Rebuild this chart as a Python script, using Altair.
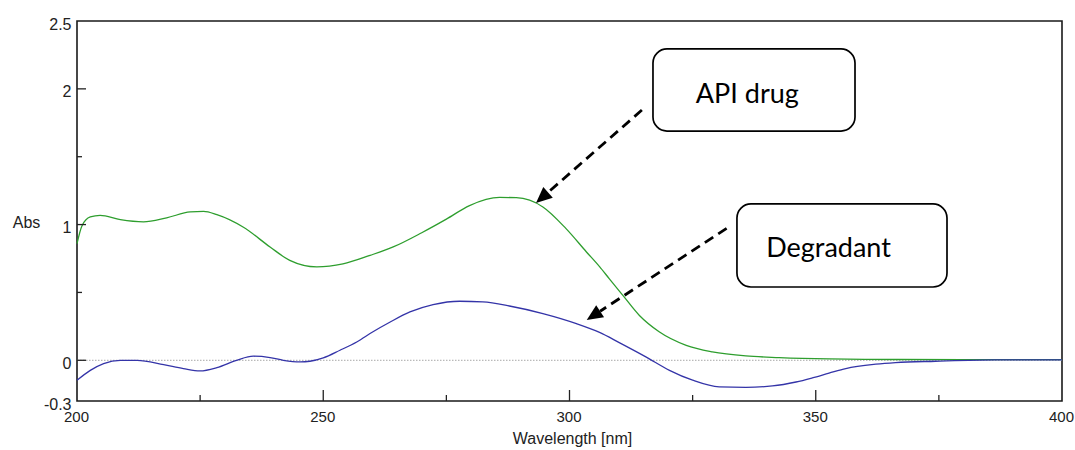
import math
import altair as alt
import pandas as pd

# ---- spectra (wavelength in nm, absorbance) ----
api_wl = [200, 201, 202.7, 204.7, 208.8, 213.5, 218.2, 223, 225.7, 228.4, 233.8, 239.2,
          243.2, 248.7, 254, 259.5, 264.2, 270, 275, 279.7, 285.8, 289.2, 294.6, 299.3,
          303.4, 306.1, 308.1, 310.8, 314.2, 318.2, 323.7, 329, 335.8, 342.6, 352.7,
          360, 380, 400]
api_abs = [0.86, 0.99, 1.056, 1.068, 1.036, 1.02, 1.05, 1.093, 1.097, 1.073, 0.98, 0.835,
           0.736, 0.688, 0.71, 0.773, 0.835, 0.94, 1.04, 1.14, 1.20, 1.198, 1.13, 0.97,
           0.80, 0.69, 0.60, 0.48, 0.33, 0.21, 0.11, 0.062, 0.032, 0.02, 0.01,
           0.007, 0.005, 0.005]

deg_wl = [200, 202.7, 205.4, 208.8, 212.2, 217.6, 221.6, 225, 228.4, 232.4, 235.8, 239.2,
          241.9, 245.3, 247.3, 250, 253.4, 256.8, 260.1, 263.5, 267.6, 272.3, 277.7, 282.4,
          287.8, 294.6, 301.4, 306.1, 310.1, 315.5, 320.3, 325, 330.4, 335.8, 341.2, 346,
          349.3, 352.7, 356.1, 362.2, 366.2, 374.3, 386.5, 400]
deg_abs = [-0.147, -0.074, -0.024, 0.0, 0.0, -0.032, -0.061, -0.078, -0.054, 0.0, 0.03, 0.02,
           0.0, -0.012, -0.007, 0.018, 0.074, 0.135, 0.21, 0.28, 0.356, 0.41, 0.435, 0.43,
           0.40, 0.344, 0.27, 0.205, 0.13, 0.025, -0.074, -0.147, -0.196, -0.199, -0.189, -0.16,
           -0.13, -0.095, -0.061, -0.029, -0.017, -0.007, 0.003, 0.003]

# ---- axis ticks / labels ----
x_labels = [200, 250, 300, 350, 400]
x_major_ticks = [250, 300, 350]
x_minor_ticks = [225, 275, 325, 375]
y_labels = [-0.3, 0, 1, 2, 2.5]
y_major_ticks = [0, 1, 2]
y_minor_ticks = [0.5, 1.5]

# ---- callouts (data coordinates) ----
box_names = ["API drug", "Degradant"]
box_x1 = [316.95, 334.0]
box_x2 = [357.97, 376.65]
box_y1 = [2.294, 1.152]
box_y2 = [1.689, 0.540]
label_x = [336.1, 352.6]
label_y = [1.896, 0.763]
arrow_tail_wl = [314.7, 331.9]
arrow_tail_abs = [1.844, 0.972]
arrow_tip_wl = [293.2, 303.5]
arrow_tip_abs = [1.159, 0.297]

W, H = 985, 380
X_DOM, Y_DOM = [200, 400], [-0.3, 2.5]
PX_X = W / (X_DOM[1] - X_DOM[0])
PX_Y = H / (Y_DOM[1] - Y_DOM[0])
HEAD = 16  # arrowhead length in px

FONT = "Liberation Sans"
TXT = "#222222"

x_axis = alt.Axis(values=x_labels, labelExpr="'' + datum.value", ticks=False, domain=False,
                  grid=False, labelFont=FONT, labelFontSize=15, labelColor=TXT,
                  labelPadding=8, labelOffset=-1, labelFlush=False, labelOverlap=False,
                  titleFont=FONT, titleFontSize=16, titleFontWeight="normal", titleColor=TXT,
                  titleBaseline="alphabetic", titleY=42, titleX=495)
y_axis = alt.Axis(values=y_labels, labelExpr="'' + datum.value", ticks=False, domain=False,
                  grid=False, labelFont=FONT, labelFontSize=16, labelColor=TXT,
                  labelPadding=6, labelOffset=3, labelFlush=False, labelOverlap=False,
                  titleFont=FONT, titleFontSize=16, titleFontWeight="normal", titleColor=TXT,
                  titleAngle=0, titleAlign="center", titleBaseline="alphabetic",
                  titleX=-51, titleY=206)
x_scale = alt.Scale(domain=X_DOM, nice=False, zero=False)
y_scale = alt.Scale(domain=Y_DOM, nice=False, zero=False)


def xe(field):
    return alt.X(f"{field}:Q", scale=x_scale, axis=x_axis, title="Wavelength [nm]")


def ye(field):
    return alt.Y(f"{field}:Q", scale=y_scale, axis=y_axis, title="Abs")


api_df = pd.DataFrame({"wl": api_wl, "abs": api_abs})
deg_df = pd.DataFrame({"wl": deg_wl, "abs": deg_abs})

zero_line = alt.Chart(pd.DataFrame({"abs": [0]})).mark_rule(
    color="#a8a8a8", strokeWidth=1, strokeDash=[1.5, 1.5]
).encode(y=ye("abs"), x=alt.value(0), x2=alt.value(W))

api_line = alt.Chart(api_df).mark_line(color="#2e9e2e", strokeWidth=1.3, interpolate="monotone").encode(
    x=xe("wl"), y=ye("abs"))
deg_line = alt.Chart(deg_df).mark_line(color="#3434a8", strokeWidth=1.3, interpolate="monotone").encode(
    x=xe("wl"), y=ye("abs"))

# inward tick marks
tick_color = "#222222"
y_major = alt.Chart(pd.DataFrame({"abs": y_major_ticks})).mark_rule(color=tick_color, strokeWidth=1.3).encode(
    y=ye("abs"), x=alt.value(0), x2=alt.value(9))
y_minor = alt.Chart(pd.DataFrame({"abs": y_minor_ticks})).mark_rule(color=tick_color, strokeWidth=1.3).encode(
    y=ye("abs"), x=alt.value(0), x2=alt.value(5))
x_major = alt.Chart(pd.DataFrame({"wl": x_major_ticks})).mark_rule(color=tick_color, strokeWidth=1.3).encode(
    x=xe("wl"), y=alt.value(H), y2=alt.value(H - 11))
x_minor = alt.Chart(pd.DataFrame({"wl": x_minor_ticks})).mark_rule(color=tick_color, strokeWidth=1.3).encode(
    x=xe("wl"), y=alt.value(H), y2=alt.value(H - 6))

# callout boxes and labels
boxes_df = pd.DataFrame({"name": box_names, "x1": box_x1, "x2": box_x2, "y1": box_y1, "y2": box_y2,
                         "tx": label_x, "ty": label_y})
boxes = alt.Chart(boxes_df).mark_rect(cornerRadius=14, fill="white", stroke="black", strokeWidth=1.7).encode(
    x=xe("x1"), x2="x2:Q", y=ye("y1"), y2="y2:Q")
labels = alt.Chart(boxes_df).mark_text(font="Lato", fontSize=27, align="center", baseline="alphabetic",
                                       color="black").encode(x=xe("tx"), y=ye("ty"), text="name:N")

# dashed arrows: shaft from tail to the base of the head, filled triangle at the tip
shaft_rows, head_rows = [], []
for i in range(len(arrow_tail_wl)):
    dx = (arrow_tip_wl[i] - arrow_tail_wl[i]) * PX_X
    dy = -(arrow_tip_abs[i] - arrow_tail_abs[i]) * PX_Y
    n = math.hypot(dx, dy)
    ux, uy = dx / n, dy / n
    base_wl = arrow_tip_wl[i] - HEAD * ux / PX_X
    base_abs = arrow_tip_abs[i] + HEAD * uy / PX_Y
    mid_wl = arrow_tip_wl[i] - (HEAD / 2) * ux / PX_X
    mid_abs = arrow_tip_abs[i] + (HEAD / 2) * uy / PX_Y
    ang = math.degrees(math.atan2(ux, -uy)) % 360
    shaft_rows += [{"arrow": i, "k": 0, "wl": arrow_tail_wl[i], "abs": arrow_tail_abs[i]},
                   {"arrow": i, "k": 1, "wl": base_wl, "abs": base_abs}]
    head_rows.append({"wl": mid_wl, "abs": mid_abs, "angle": ang})

shafts = alt.Chart(pd.DataFrame(shaft_rows)).mark_line(color="black", strokeWidth=2.8, strokeDash=[10, 6]).encode(
    x=xe("wl"), y=ye("abs"), detail="arrow:N", order="k:Q")
heads = alt.Chart(pd.DataFrame(head_rows)).mark_point(
    shape="M0,-1L-0.9,1L0.9,1Z", filled=True, size=HEAD * HEAD, color="black", opacity=1, strokeWidth=0
).encode(x=xe("wl"), y=ye("abs"), angle=alt.Angle("angle:Q", scale=None))

chart = alt.layer(
    zero_line, api_line, deg_line, y_major, y_minor, x_major, x_minor, shafts, heads, boxes, labels
).properties(
    width=W, height=H,
    autosize=alt.AutoSizeParams(type="none"),
    padding={"left": 77, "top": 21, "right": 13, "bottom": 49},
    background="white",
).configure_view(stroke="#1a1a1a", strokeWidth=1.6)

chart.save("out.html", embed_options={"renderer": "svg", "actions": False})
